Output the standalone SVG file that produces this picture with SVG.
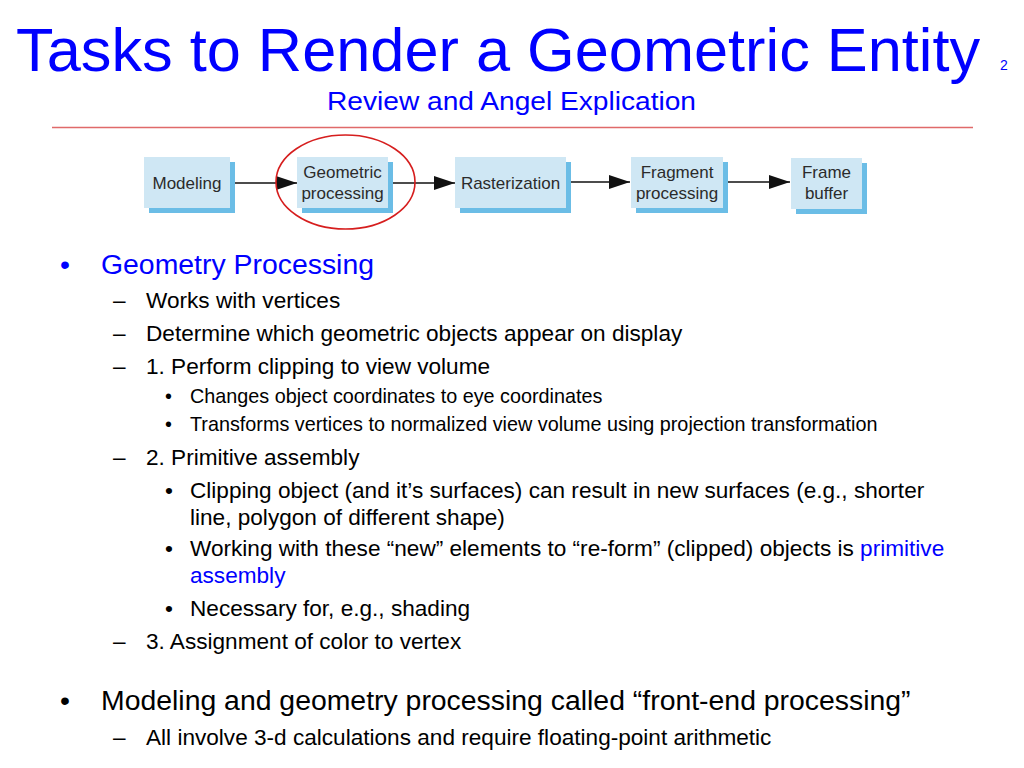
<svg xmlns="http://www.w3.org/2000/svg" width="1024" height="768" viewBox="0 0 1024 768">
<defs>
<style>
text{font-family:"Liberation Sans",Arial,sans-serif;}
.blue{fill:#0000ff;}
.blk{fill:#000;}
.l1{font-size:28.4px;}
.l2{font-size:22.6px;}
.l3{font-size:19.8px;}
.box{fill:#cfe7f4;}
.shd{fill:#6bbde6;}
.bt{font-size:17px;fill:#2b2b2b;text-anchor:middle;}
.conn{stroke:#111;stroke-width:1.3;fill:none;}
</style>
<marker id="ah" markerUnits="userSpaceOnUse" markerWidth="21" markerHeight="14" viewBox="0 0 21 14" refX="21" refY="7" orient="auto">
<path d="M0,0 L21,7 L0,14 z" fill="#111"/>
</marker>
</defs>
<rect width="1024" height="768" fill="#fff"/>

<g id="title">
<text x="16" y="71" class="blue" font-size="61.3">Tasks to Render a Geometric Entity</text>
<text x="1000" y="70" class="blue" font-size="14">2</text>
<text x="327" y="110" class="blue" font-size="25" textLength="369" lengthAdjust="spacingAndGlyphs">Review and Angel Explication</text>
<line x1="52" y1="127.5" x2="973" y2="127.5" stroke="#e06a6a" stroke-width="1.5"/>
</g>

<g id="connectors">
<line class="conn" x1="231" y1="183" x2="297" y2="183" marker-end="url(#ah)"/>
<line class="conn" x1="389" y1="183" x2="455" y2="183" marker-end="url(#ah)"/>
<line class="conn" x1="568" y1="182" x2="630" y2="182" marker-end="url(#ah)"/>
<line class="conn" x1="724" y1="182" x2="790" y2="182" marker-end="url(#ah)"/>
</g>

<g id="node-modeling">
<rect class="shd" x="149" y="162" width="86" height="51"/>
<rect class="box" x="144" y="157" width="86" height="51"/>
<text class="bt" x="187" y="189">Modeling</text>
</g>
<g id="node-geometric">
<rect class="shd" x="302" y="162" width="91" height="51"/>
<rect class="box" x="297" y="157" width="91" height="51"/>
<text class="bt" x="342.5" y="178">Geometric</text>
<text class="bt" x="342.5" y="199">processing</text>
</g>
<g id="node-raster">
<rect class="shd" x="460" y="162" width="111" height="51"/>
<rect class="box" x="455" y="157" width="111" height="51"/>
<text class="bt" x="510.5" y="189">Rasterization</text>
</g>
<g id="node-fragment">
<rect class="shd" x="636" y="162" width="92" height="51"/>
<rect class="box" x="631" y="157" width="92" height="51"/>
<text class="bt" x="677" y="178">Fragment</text>
<text class="bt" x="677" y="199">processing</text>
</g>
<g id="node-framebuffer">
<rect class="shd" x="796" y="163" width="71" height="51"/>
<rect class="box" x="791" y="158" width="71" height="51"/>
<text class="bt" x="826.5" y="178">Frame</text>
<text class="bt" x="826.5" y="199">buffer</text>
</g>

<g id="highlight">
<ellipse cx="345.5" cy="182" rx="69.5" ry="47" fill="none" stroke="#d61e1e" stroke-width="1.6"/>
</g>

<g id="body">
<text x="60" y="274" class="l1 blue">•</text>
<text x="101" y="274" class="l1 blue">Geometry Processing</text>

<text x="113" y="308" class="l2 blk">–</text>
<text x="146" y="308" class="l2 blk">Works with vertices</text>
<text x="113" y="341" class="l2 blk">–</text>
<text x="146" y="341" class="l2 blk">Determine which geometric objects appear on display</text>
<text x="113" y="374" class="l2 blk">–</text>
<text x="146" y="374" class="l2 blk">1. Perform clipping to view volume</text>

<text x="165" y="403" class="l3 blk">•</text>
<text x="190" y="403" class="l3 blk">Changes object coordinates to eye coordinates</text>
<text x="165" y="431" class="l3 blk">•</text>
<text x="190" y="431" class="l3 blk">Transforms vertices to normalized view volume using projection transformation</text>

<text x="113" y="465" class="l2 blk">–</text>
<text x="146" y="465" class="l2 blk">2. Primitive assembly</text>

<text x="165" y="498" class="l2 blk">•</text>
<text x="190" y="498" class="l2 blk">Clipping object (and it’s surfaces) can result in new surfaces (e.g., shorter</text>
<text x="190" y="525" class="l2 blk">line, polygon of different shape)</text>
<text x="165" y="556" class="l2 blk">•</text>
<text x="190" y="556" class="l2 blk">Working with these “new” elements to “re-form” (clipped) objects is <tspan class="blue">primitive</tspan></text>
<text x="190" y="583" class="l2 blue">assembly</text>
<text x="165" y="616" class="l2 blk">•</text>
<text x="190" y="616" class="l2 blk">Necessary for, e.g., shading</text>

<text x="113" y="649" class="l2 blk">–</text>
<text x="146" y="649" class="l2 blk">3. Assignment of color to vertex</text>

<text x="60" y="710" class="l1 blk">•</text>
<text x="101" y="710" class="l1 blk">Modeling and geometry processing called “front-end processing”</text>
<text x="113" y="745" class="l2 blk">–</text>
<text x="146" y="745" class="l2 blk">All involve 3-d calculations and require floating-point arithmetic</text>
</g>
</svg>
